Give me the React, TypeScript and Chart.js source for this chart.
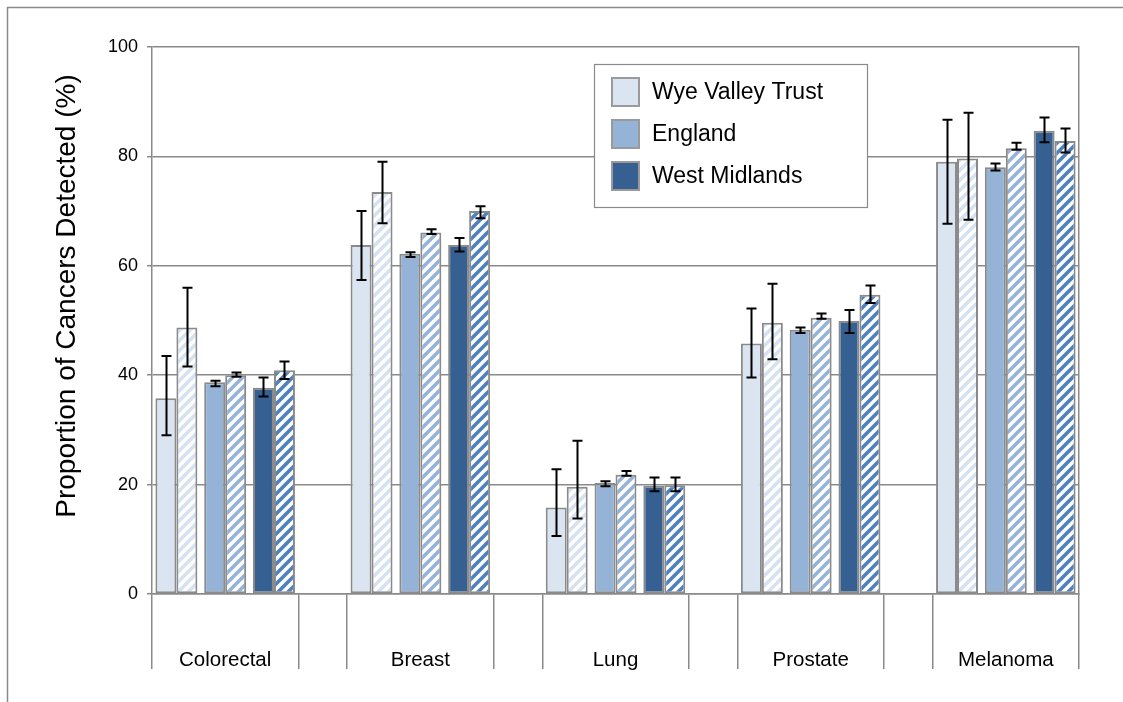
import React, { useEffect, useRef } from 'react';
import { Chart, registerables } from 'chart.js';

Chart.register(...registerables);

const cancers = ['Colorectal', 'Breast', 'Lung', 'Prostate', 'Melanoma'];
const areas = ['Wye Valley Trust', 'England', 'West Midlands'];

// solid bars
const wyeSolid = [35.8, 63.8, 15.8, 45.8, 79.0];
const wyeSolidLow = [29.0, 57.4, 10.6, 39.6, 67.7];
const wyeSolidHigh = [43.5, 70.0, 22.8, 52.2, 86.7];
const engSolid = [38.7, 62.2, 20.3, 48.3, 78.0];
const engSolidLow = [38.0, 61.6, 19.7, 47.7, 77.4];
const engSolidHigh = [39.0, 62.5, 20.6, 48.7, 78.7];
const wmSolid = [37.7, 63.8, 19.8, 49.9, 84.7];
const wmSolidLow = [36.1, 62.6, 18.8, 47.7, 82.6];
const wmSolidHigh = [39.6, 65.1, 21.3, 51.9, 87.1];

// hatched bars
const wyeHatch = [48.7, 73.5, 19.6, 49.6, 79.6];
const wyeHatchLow = [41.6, 67.8, 13.8, 42.9, 68.4];
const wyeHatchHigh = [56.0, 79.0, 28.0, 56.7, 88.0];
const engHatch = [40.0, 66.1, 21.8, 50.5, 81.5];
const engHatchLow = [39.7, 65.8, 21.6, 50.3, 81.2];
const engHatchHigh = [40.5, 66.7, 22.5, 51.3, 82.5];
const wmHatch = [40.9, 70.0, 19.9, 54.7, 82.8];
const wmHatchLow = [39.3, 68.7, 18.8, 53.2, 80.7];
const wmHatchHigh = [42.5, 70.9, 21.3, 56.4, 85.1];

const solidColors = ['#dbe5f1', '#95b3d7', '#376092'];
const stripeColors = ['#d6e2f1', '#95b3d7', '#4f81bd'];

const GRAY = '#8a8a8a';
const FONT = "'Liberation Sans', Arial, sans-serif";

// build slot arrays: 3 areas per cancer + a spacer between cancers
function slots<T>(a: T[], b: T[], c: T[], filler: T): T[] {
  const out: T[] = [];
  cancers.forEach((_, i) => {
    out.push(a[i], b[i], c[i]);
    if (i < cancers.length - 1) out.push(filler);
  });
  return out;
}

function slotsConst<T>(a: T, b: T, c: T, filler: T): T[] {
  const out: T[] = [];
  cancers.forEach((_, i) => {
    out.push(a, b, c);
    if (i < cancers.length - 1) out.push(filler);
  });
  return out;
}

const labels: string[] = [];
cancers.forEach((name, i) => {
  labels.push('', name, '');
  if (i < cancers.length - 1) labels.push('');
});

function makeHatch(color: string): CanvasPattern | string {
  const s = 10;
  const c = document.createElement('canvas');
  c.width = s;
  c.height = s;
  const g = c.getContext('2d');
  if (!g) return color;
  g.fillStyle = '#ffffff';
  g.fillRect(0, 0, s, s);
  g.strokeStyle = color;
  g.lineWidth = 3.6;
  g.beginPath();
  for (const o of [-s, 0, s]) {
    g.moveTo(o - 2, s + 2);
    g.lineTo(o + s + 2, -2);
  }
  g.stroke();
  return g.createPattern(c, 'repeat') || color;
}

const errorPlugin = {
  id: 'errorBars',
  afterDatasetsDraw(chart: any) {
    const { ctx } = chart;
    const yScale = chart.scales.y;
    ctx.save();
    ctx.strokeStyle = '#000';
    ctx.lineWidth = 2;
    chart.data.datasets.forEach((ds: any, d: number) => {
      const meta = chart.getDatasetMeta(d);
      meta.data.forEach((bar: any, i: number) => {
        const lo = ds.errLow[i];
        const hi = ds.errHigh[i];
        if (lo == null || hi == null) return;
        const x = Math.round(bar.x) + 0.5;
        const yl = yScale.getPixelForValue(lo);
        const yh = yScale.getPixelForValue(hi);
        ctx.beginPath();
        ctx.moveTo(x, yl);
        ctx.lineTo(x, yh);
        ctx.moveTo(x - 5, yl);
        ctx.lineTo(x + 5, yl);
        ctx.moveTo(x - 5, yh);
        ctx.lineTo(x + 5, yh);
        ctx.stroke();
      });
    });
    ctx.restore();
  },
};

const decorPlugin = {
  id: 'decor',
  beforeDraw(chart: any) {
    const { ctx } = chart;
    ctx.save();
    ctx.strokeStyle = GRAY;
    ctx.lineWidth = 1.5;
    ctx.strokeRect(7.5, 7.5, chart.width + 50, chart.height + 50);
    ctx.restore();
  },
  afterDraw(chart: any) {
    const { ctx, chartArea } = chart;
    ctx.save();
    // y-axis title
    ctx.fillStyle = '#000';
    ctx.font = `28px ${FONT}`;
    ctx.textAlign = 'center';
    ctx.textBaseline = 'alphabetic';
    ctx.translate(75, 296);
    ctx.rotate(-Math.PI / 2);
    ctx.fillText('Proportion of Cancers Detected (%)', 0, 0);
    ctx.restore();

    // legend
    ctx.save();
    const x0 = chartArea.left + 442;
    const y0 = chartArea.top + 17;
    const w = 273;
    const h = 143;
    ctx.fillStyle = '#fff';
    ctx.fillRect(x0, y0, w, h);
    ctx.strokeStyle = GRAY;
    ctx.lineWidth = 1.2;
    ctx.strokeRect(x0 + 0.5, y0 + 0.5, w, h);
    ctx.font = `23px ${FONT}`;
    ctx.textAlign = 'left';
    ctx.textBaseline = 'middle';
    areas.forEach((name, i) => {
      const cy = y0 + 28 + i * 42;
      ctx.fillStyle = solidColors[i];
      ctx.fillRect(x0 + 17, cy - 15, 29, 30);
      ctx.strokeStyle = '#9a9a9a';
      ctx.lineWidth = 2;
      ctx.strokeRect(x0 + 18, cy - 14, 27, 28);
      ctx.fillStyle = '#000';
      ctx.fillText(name, x0 + 58, cy + 1);
    });
    ctx.restore();
  },
};

export default function App() {
  const ref = useRef<HTMLCanvasElement>(null);

  useEffect(() => {
    if (!ref.current) return;
    Chart.defaults.font.family = FONT;
    Chart.defaults.color = '#000';

    const hatchPatterns = stripeColors.map((c) => makeHatch(c));
    const none = 'rgba(0,0,0,0)';

    const solidBg = slotsConst<any>(solidColors[0], solidColors[1], solidColors[2], none);
    const hatchBg = slotsConst<any>(hatchPatterns[0], hatchPatterns[1], hatchPatterns[2], none);

    const chart = new Chart(ref.current, {
      type: 'bar',
      data: {
        labels,
        datasets: [
          {
            label: 'Solid',
            data: slots<number | null>(wyeSolid, engSolid, wmSolid, null),
            errLow: slots<number | null>(wyeSolidLow, engSolidLow, wmSolidLow, null),
            errHigh: slots<number | null>(wyeSolidHigh, engSolidHigh, wmSolidHigh, null),
            backgroundColor: solidBg,
            borderColor: GRAY,
            borderWidth: 2,
            borderSkipped: false,
            categoryPercentage: 0.86,
            barPercentage: 1.0,
          } as any,
          {
            label: 'Hatched',
            data: slots<number | null>(wyeHatch, engHatch, wmHatch, null),
            errLow: slots<number | null>(wyeHatchLow, engHatchLow, wmHatchLow, null),
            errHigh: slots<number | null>(wyeHatchHigh, engHatchHigh, wmHatchHigh, null),
            backgroundColor: hatchBg,
            borderColor: GRAY,
            borderWidth: 2,
            borderSkipped: false,
            categoryPercentage: 0.86,
            barPercentage: 1.0,
          } as any,
        ],
      },
      options: {
        responsive: false,
        animation: false,
        devicePixelRatio: 1,
        layout: { padding: { top: 47, right: 44, left: 0, bottom: 0 } },
        plugins: {
          legend: { display: false },
          tooltip: { enabled: false },
        },
        scales: {
          x: {
            offset: true,
            grid: {
              offset: true,
              drawOnChartArea: false,
              drawTicks: true,
              tickLength: 75,
              lineWidth: 1.5,
              color: (c: any) => {
                const i = c.index;
                if (i === undefined) return GRAY;
                const m = i % 4;
                return m === 0 || m === 3 ? GRAY : 'rgba(0,0,0,0)';
              },
            },
            border: { display: true, color: GRAY, width: 1.5 },
            ticks: {
              autoSkip: false,
              maxRotation: 0,
              minRotation: 0,
              padding: -21,
              font: { size: 20.5, family: FONT },
              color: '#000',
            },
            afterFit: (s: any) => {
              s.height = 108;
            },
          },
          y: {
            min: 0,
            max: 100,
            ticks: {
              stepSize: 20,
              padding: 9,
              font: { size: 18, family: FONT },
              color: '#000',
            },
            grid: {
              color: GRAY,
              lineWidth: 1.5,
              tickLength: 5,
            },
            border: { display: true, color: GRAY, width: 1.5 },
            afterFit: (s: any) => {
              s.width = 152;
            },
          },
          y2: {
            position: 'right',
            min: 0,
            max: 100,
            display: true,
            ticks: { display: false },
            grid: { drawOnChartArea: false, drawTicks: false },
            border: { display: true, color: GRAY, width: 1.5 },
            afterFit: (s: any) => {
              s.width = 0;
            },
          },
        },
      } as any,
      plugins: [errorPlugin, decorPlugin],
    });

    return () => chart.destroy();
  }, []);

  return (
    <div style={{ position: 'absolute', left: 0, top: 0, width: 1123, height: 702, background: '#fff' }}>
      <canvas ref={ref} width={1123} height={702} />
    </div>
  );
}
